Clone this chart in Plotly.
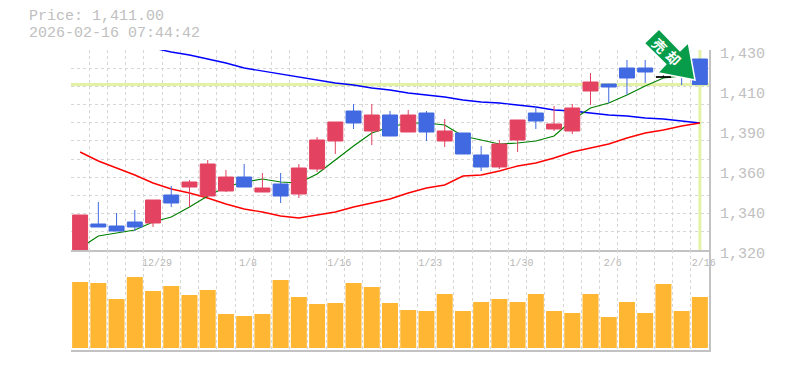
import plotly.graph_objects as go

opens = [1320,1334.3,1333.2,1335.4,1334.85,1350.25,1354.65,1349.7,1352.45,1360.15,1351.9,1356.3,1350.8,1364.55,1379.95,1396.45,1385.45,1394.25,1384.9,1395.35,1379.95,1384.35,1372.25,1365.65,1380.5,1395.35,1386.55,1385.45,1407.45,1411.3,1420.1,1420.1,1415.15,1418,1425.05]
highs = [1339.25,1346.4,1340.35,1342,1347.5,1355.2,1358.5,1369.5,1364,1367.3,1362.35,1362.35,1367.3,1382.15,1390.4,1400.3,1400.3,1396.45,1397,1396.45,1392.05,1384.35,1377.2,1380.5,1391.5,1399.2,1399.2,1400.3,1417.35,1411.3,1424.5,1424.5,1416,1418.5,1425.05]
lows = [1320,1332.65,1330.45,1330.45,1332.65,1343.65,1343.65,1349.7,1351.9,1354.65,1351.9,1345.85,1348.6,1362.9,1372.8,1386.55,1377.75,1382.7,1384.9,1379.95,1376.65,1372.8,1363.45,1364.55,1373.9,1386.55,1385.45,1383.8,1399.75,1400.85,1405.25,1411.85,1415,1410.75,1411]
closes = [1339.25,1332.65,1330.45,1332.65,1347.5,1345.85,1357.4,1367.3,1360.15,1354.65,1354.1,1349.7,1365.1,1380.5,1390.4,1389.85,1394.25,1382.7,1394.25,1384.9,1385.45,1372.8,1365.65,1378.3,1391.5,1390.95,1389.3,1398.1,1412.4,1409.65,1414.6,1417.9,1415.15,1415.7,1411]
ma_green = [1321.1,1327.7,1329.35,1331,1335.4,1338.15,1343.65,1349.7,1354.65,1357.4,1359.05,1357.4,1356.85,1361.8,1369.5,1377.2,1384.35,1387.65,1389.85,1389.85,1388.75,1382.7,1380.5,1378.3,1378.85,1379.95,1382.7,1391.5,1398.1,1400.85,1405.25,1410.2,1414.6,1415.7,1417.35]
ma_red = [1373.9,1368.95,1365.1,1361.25,1356.85,1353.55,1351.35,1348.6,1345.3,1342.55,1340.9,1338.7,1337.6,1339.25,1340.9,1343.65,1345.85,1348.05,1351.35,1354.1,1355.75,1360.7,1361.25,1363.45,1366.2,1367.85,1370.6,1373.9,1376.1,1378.3,1381.6,1384.35,1386,1388.2,1389.85]
ma_blue = [None]*4 + [1431.1,1428.9,1427.25,1425.05,1422.85,1420.1,1418.45,1416.8,1415.15,1413.5,1411.85,1410.75,1409.1,1408,1406.35,1405.25,1404.15,1402.5,1401.4,1400.85,1399.75,1398.65,1397,1396.45,1395.35,1394.25,1393.7,1392.6,1392.05,1390.95,1389.85]
volumes = [66,65,49,71,57,62,53,58,34,32,34,68,51,44,45,65,61,45,38,37,54,37,46,49,46,54,37,35,54,31,46,35,64,37,51]
date_labels = {4: "12/29", 9: "1/8", 14: "1/16", 19: "1/23", 24: "1/30", 29: "2/6", 34: "2/16"}
price_tickvals = [1430, 1408, 1386, 1364, 1342, 1320]
price_ticktext = ["1,430", "1,410", "1,390", "1,360", "1,340", "1,320"]
current_price = 1411
title_lines = ["Price: 1,411.00", "2026-02-16 07:44:42"]
arrow_text = ["売", "却"]

n = len(closes)
idx = list(range(n))
doji = 32
GREY = "#c2c2c2"
GRID = "#d6d6d6"
MONO = "Liberation Mono"
L, R, T, B = 71, 76, 50, 20
W, H = 785, 370
PW, PH = W - L - R, H - T - B

def px(x): return (x - L) / PW
def py(y): return (H - B - y) / PH

fig = go.Figure()
fig.add_trace(go.Scatter(x=[-0.5, n - 0.5], y=[current_price] * 2, mode="lines",
                         line=dict(color="#e4f2a8", width=3), xaxis="x", yaxis="y"))
fig.add_trace(go.Scatter(x=[n - 1, n - 1], y=[1320, 1430], mode="lines",
                         line=dict(color="#e4f2a8", width=3), xaxis="x", yaxis="y"))
fig.add_trace(go.Scatter(x=idx, y=ma_blue, mode="lines", line=dict(color="#0000ff", width=1.4),
                         cliponaxis=False, xaxis="x", yaxis="y"))
fig.add_trace(go.Scatter(x=idx, y=ma_red, mode="lines", line=dict(color="#ff0000", width=1.4),
                         xaxis="x", yaxis="y"))
fig.add_trace(go.Scatter(x=idx, y=ma_green, mode="lines", line=dict(color="#008000", width=1.2),
                         xaxis="x", yaxis="y"))
keep = [i for i in idx if i != doji]
fig.add_trace(go.Candlestick(
    x=keep, open=[opens[i] for i in keep], high=[highs[i] for i in keep],
    low=[lows[i] for i in keep], close=[closes[i] for i in keep],
    increasing=dict(line=dict(color="#e34360", width=1), fillcolor="#e34360"),
    decreasing=dict(line=dict(color="#4169e1", width=1), fillcolor="#4169e1"),
    whiskerwidth=0, xaxis="x3", yaxis="y3"))
fig.add_trace(go.Candlestick(
    x=[doji], open=[opens[doji]], high=[highs[doji]], low=[lows[doji]], close=[closes[doji]],
    increasing=dict(line=dict(color="#000000", width=1), fillcolor="#000000"),
    decreasing=dict(line=dict(color="#000000", width=1), fillcolor="#000000"),
    whiskerwidth=0, xaxis="x3", yaxis="y3"))
fig.add_trace(go.Bar(x=idx, y=volumes, width=0.877, marker=dict(color="#ffb733", line_width=0),
                     xaxis="x2", yaxis="y2"))

xgrid = [i - 0.5 for i in range(n + 1)]
xtext = [date_labels.get(i, "") for i in range(n + 1)]
common_x = dict(range=[-0.5, n - 0.5], tickmode="array", tickvals=xgrid, showgrid=True,
                gridcolor=GRID, griddash="3px,3px", gridwidth=1, zeroline=False, automargin=False,
                showline=True, linecolor=GREY, linewidth=2, rangeslider=dict(visible=False))

arrow = [(659, 29), (644.3, 43.3), (665.7, 64.3), (657.7, 72.7), (695, 80), (688.3, 42.7), (680, 50.7)]
path = "M " + " L ".join(f"{px(a):.5f},{py(b):.5f}" for a, b in arrow) + " Z"

annotations = [
    dict(xref="paper", yref="paper", x=px(27), y=py(17), xanchor="left", yanchor="middle",
         text=title_lines[0], showarrow=False, font=dict(family=MONO, size=15, color="#c0c0c0")),
    dict(xref="paper", yref="paper", x=px(27), y=py(33), xanchor="left", yanchor="middle",
         text=title_lines[1], showarrow=False, font=dict(family=MONO, size=15, color="#c0c0c0")),
    dict(xref="paper", yref="paper", x=px(659.5), y=py(45), xanchor="center", yanchor="middle",
         text=arrow_text[0], textangle=45, showarrow=False,
         font=dict(family="Noto Sans CJK JP", size=14, color="white", weight="bold")),
    dict(xref="paper", yref="paper", x=px(674), y=py(57.5), xanchor="center", yanchor="middle",
         text=arrow_text[1], textangle=45, showarrow=False,
         font=dict(family="Noto Sans CJK JP", size=14, color="white", weight="bold")),
]

fig.update_layout(
    width=W, height=H, autosize=False, margin=dict(l=L, r=R, t=T, b=B, pad=0),
    paper_bgcolor="white", plot_bgcolor="white", showlegend=False, hovermode=False,
    boxgap=0.18, boxgroupgap=0, boxmode="overlay",
    xaxis=dict(common_x, anchor="y", ticktext=xtext, ticks="", ticklabelshift=13,
               ticklabelstandoff=2, tickfont=dict(family=MONO, size=10, color="#b8b8b8"), tickangle=0),
    xaxis2=dict(common_x, anchor="y2", matches="x", showticklabels=False, ticks=""),
    xaxis3=dict(range=[-0.5, n - 0.5], overlaying="x", anchor="y3", visible=False, automargin=False,
                rangeslider=dict(visible=False)),
    yaxis=dict(domain=[100 / 300, 1], range=[1320, 1430], side="right", tickmode="array",
               tickvals=price_tickvals, ticktext=price_ticktext, ticks="", ticklabelshift=3,
               ticklabelstandoff=6, tickfont=dict(family=MONO, size=15, color="#c0c0c0"),
               showgrid=False, zeroline=False, showline=True, linecolor=GREY, linewidth=2, automargin=False,
               minor=dict(tickmode="linear", tick0=1320, dtick=10, showgrid=True, gridcolor=GRID,
                          griddash="3px,3px", gridwidth=1, ticks="")),
    yaxis2=dict(domain=[0, 100 / 300], range=[-2, 98], side="right", showgrid=False, automargin=False,
                showticklabels=False, ticks="", zeroline=False, showline=True,
                linecolor=GREY, linewidth=2),
    yaxis3=dict(domain=[100 / 300, 1], range=[1320, 1430], overlaying="y", anchor="x3",
                visible=False, automargin=False),
    shapes=[dict(type="path", path=path, xref="paper", yref="paper", layer="above",
                 fillcolor="#079c4a", line=dict(color="white", width=1.5))],
    annotations=annotations,
)
fig.write_html("out.html", config=dict(displayModeBar=False),
               post_script="document.body.style.margin='0';document.body.style.overflow='hidden';")
